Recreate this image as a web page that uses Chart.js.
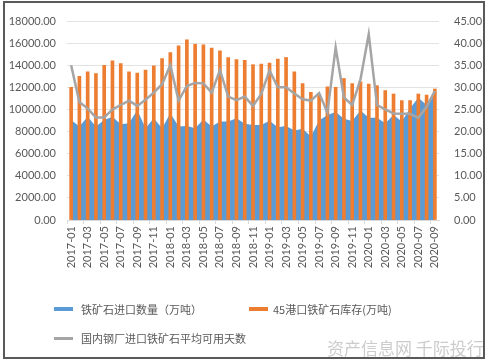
<!DOCTYPE html>
<html lang="zh-CN">
<head>
  <meta charset="UTF-8">
  <title>铁矿石进口数量与港口库存</title>
  <script src="https://cdn.jsdelivr.net/npm/chart.js@4.4.0/dist/chart.umd.min.js"></script>
  <style>
    body { margin: 0; background: #fff; }
    #wrap { position: relative; width: 495px; height: 361px; overflow: hidden; }
    #frame { position: absolute; left: 3px; top: 1px; width: 478px; height: 354px; border: 2px solid #595959; }
    canvas { position: absolute; left: 0; top: 0; }
    .lg { position: absolute; font: 11px "Noto Sans CJK SC", sans-serif; color: #595959; white-space: nowrap; line-height: 14px; }
    .box { position: absolute; width: 19px; height: 4px; }
    #mark { position: absolute; left: 327px; top: 335px; font: 17px "Noto Sans CJK SC", sans-serif; color: #cccccc; white-space: nowrap; }
  </style>
</head>
<body>
<div id="wrap">
  <div id="frame"></div>
  <canvas id="chart" width="495" height="361"></canvas>

  <!-- legend, laid out like the original -->
  <div class="box" style="left:54px; top:307px; background:#5b9bd5;"></div>
  <div class="lg" style="left:81px; top:302px;">铁矿石进口数量（万吨）</div>
  <div class="box" style="left:249px; top:307px; background:#ed7d31;"></div>
  <div class="lg" style="left:273px; top:302px;">45港口铁矿石库存(万吨)</div>
  <div class="box" style="left:54px; top:337px; height:2.5px; background:#a5a5a5;"></div>
  <div class="lg" style="left:81px; top:331px;">国内钢厂进口铁矿石平均可用天数</div>

  <div id="mark">资产信息网 千际投行</div>
</div>

<script>
  // months 2017-01 .. 2020-09
  const categories = [
    '2017-01','2017-02','2017-03','2017-04','2017-05','2017-06','2017-07','2017-08','2017-09','2017-10','2017-11','2017-12',
    '2018-01','2018-02','2018-03','2018-04','2018-05','2018-06','2018-07','2018-08','2018-09','2018-10','2018-11','2018-12',
    '2019-01','2019-02','2019-03','2019-04','2019-05','2019-06','2019-07','2019-08','2019-09','2019-10','2019-11','2019-12',
    '2020-01','2020-02','2020-03','2020-04','2020-05','2020-06','2020-07','2020-08','2020-09'
  ];

  // 铁矿石进口数量（万吨）
  const importVolume = [
    9050, 8450, 9350, 8450, 9050, 9350, 8650, 8750, 9950, 8300, 9200, 8300,
    9650, 8450, 8500, 8300, 9100, 8450, 8900, 8900, 9200, 8700, 8600, 8600,
    8980, 8400, 8500, 8100, 8250, 7550, 9000, 9500, 9780, 9150, 8950, 9900,
    9250, 9250, 8750, 9500, 8900, 10100, 11050, 10400, 11600
  ];

  // 45港口铁矿石库存(万吨)
  const portStock = [
    12000, 13000, 13400, 13250, 14000, 14400, 14150, 13400, 13300, 13550, 13950, 14600,
    15150, 15750, 16300, 15900, 15850, 15550, 15300, 14700, 14500, 14450, 14050, 14100,
    14200, 14550, 14700, 13400, 12350, 11550, 11300, 12050, 12000, 12800, 12350, 12500,
    12300, 12150, 11700, 11400, 10800, 10800, 11400, 11300, 11850
  ];

  // 国内钢厂进口铁矿石平均可用天数
  const usableDays = [
    35.0, 26.7, 25.2, 23.2, 23.2, 25.0, 26.0, 27.0, 25.8, 27.2, 28.8, 30.7,
    35.0, 27.0, 30.3, 31.0, 30.9, 28.8, 33.9, 27.9, 27.1, 27.9, 25.8, 28.5,
    33.8, 30.0, 30.0, 28.6, 27.3, 27.0, 28.7, 24.3, 39.0, 27.7, 26.0, 31.8,
    42.0, 26.0, 25.0, 24.1, 24.0, 24.0, 23.1, 25.6, 29.2
  ];

  const numFont = { family: 'Lato, sans-serif', size: 11 };
  const tickGrey = '#595959';

  new Chart(document.getElementById('chart'), {
    data: {
      labels: categories,
      datasets: [
        {
          type: 'line',
          label: '铁矿石进口数量（万吨）',
          data: importVolume,
          yAxisID: 'y',
          fill: 'origin',
          backgroundColor: '#5b9bd5',
          borderWidth: 0,
          pointRadius: 0,
          tension: 0,
          order: 3
        },
        {
          type: 'bar',
          label: '45港口铁矿石库存(万吨)',
          data: portStock,
          yAxisID: 'y',
          backgroundColor: '#ed7d31',
          barThickness: 3,
          order: 2
        },
        {
          type: 'line',
          label: '国内钢厂进口铁矿石平均可用天数',
          data: usableDays,
          yAxisID: 'y1',
          borderColor: '#a5a5a5',
          borderWidth: 2.5,
          pointRadius: 0,
          tension: 0,
          fill: false,
          order: 1
        }
      ]
    },
    options: {
      responsive: false,
      animation: false,
      layout: { padding: { left: 4, right: 11, top: 21, bottom: 80 } },
      plugins: {
        legend: { display: false },
        tooltip: { enabled: false }
      },
      scales: {
        x: {
          offset: true,
          grid: {
            drawOnChartArea: false,
            tickLength: 4,
            color: ctx => (ctx.index % 2 === 0 ? '#d9d9d9' : 'transparent')
          },
          border: { color: '#d9d9d9' },
          ticks: {
            autoSkip: false,
            minRotation: 90,
            maxRotation: 90,
            padding: 2,
            color: tickGrey,
            font: numFont,
            callback: function (v, i) { return i % 2 === 0 ? this.getLabelForValue(v) : ''; }
          },
          afterFit: s => { s.height = 61; }
        },
        y: {
          position: 'left',
          min: 0,
          max: 18000,
          grid: { color: '#e3e3e3', drawTicks: false },
          border: { display: false },
          ticks: {
            stepSize: 2000,
            padding: 11,
            color: tickGrey,
            font: numFont,
            callback: v => v.toFixed(2)
          },
          afterFit: s => { s.width = 63; }
        },
        y1: {
          position: 'right',
          min: 0,
          max: 45,
          grid: { display: false },
          border: { display: false },
          ticks: {
            stepSize: 5,
            padding: 7,
            color: tickGrey,
            font: numFont,
            callback: v => v.toFixed(2)
          },
          afterFit: s => { s.width = 45; }
        }
      }
    }
  });
</script>
</body>
</html>
